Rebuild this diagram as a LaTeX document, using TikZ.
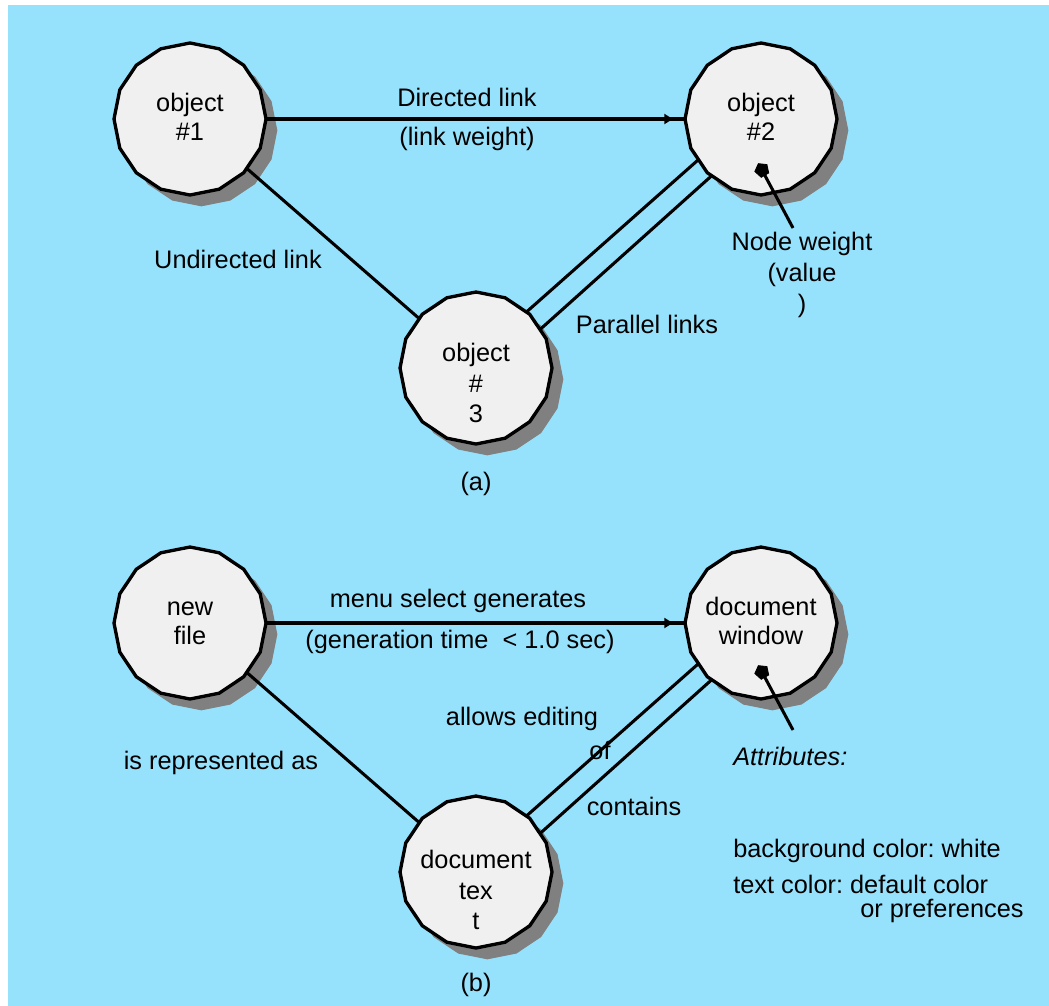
\documentclass[tikz,border=0pt]{standalone}
\usepackage{fontspec}
\setmainfont{Liberation Sans}
\usetikzlibrary{shapes.geometric,shadows,arrows.meta}
\definecolor{paper}{RGB}{150,226,252}
\definecolor{nodefill}{RGB}{240,240,240}
\definecolor{shade}{RGB}{128,128,128}
\frenchspacing
\begin{document}
\begin{tikzpicture}[x=0.75pt,y=-0.75pt,
  every node/.style={font=\fontsize{19}{21.5}\selectfont},
  obj/.style={regular polygon, regular polygon sides=16,
    shape border rotate=11.25, minimum size=114pt,
    inner sep=0pt, outer sep=0pt, draw=black, line width=2.5pt,
    fill=nodefill,
    drop shadow={opacity=1, fill=shade, shadow xshift=8.5pt, shadow yshift=-8.5pt}},
  txt/.style={align=center, inner sep=0pt},
  tall/.style={txt, font=\fontsize{19}{23}\selectfont},
  note/.style={inner sep=0pt, anchor=west},
  link/.style={line width=2.3pt},
  arrowlink/.style={line width=2.3pt, -{Latex[length=7.5pt,width=8.5pt]}, shorten >=8pt},
  weightdot/.style={regular polygon, regular polygon sides=5, fill=black,
    draw=black, line width=0.6pt, minimum size=11pt, inner sep=0pt,
    shape border rotate=30}
]
% page and background
\useasboundingbox (0,0) rectangle (1049,1006);
\fill[paper] (8,5) rectangle (1049,1006);

% ---------- (a) generic graph ----------
\node[obj] (n1) at (190,119) {};
\node[obj] (n2) at (761,119) {};
\node[obj] (n3) at (476,368) {};

\draw[link] (n1) -- (n2);
\draw[arrowlink] (n1) -- (n2);
\draw[link] (n1) -- (n3);
\draw[link] (n2.213) -- (n3.48);
\draw[link] (n2.229) -- (n3.31);

\node[weightdot] (w1) at (762,170) {};
\coordinate (w1e) at (793,228);
\draw[link] (w1.center) -- (w1e);

\node[txt] (t1) at (190,117) {object\\\#1};
\node[txt] (t2) at (761,117) {object\\\#2};
\node[tall] (t3) at (476,383) {object\\\#\\3};

\node[txt] (la1) at (467,97) {Directed link};
\node[txt] (la2) at (467,139) {(link weight)};
\node[txt] (la3) at (238,259) {Undirected link};
\node[txt] (la4) at (647,324) {Parallel links};
\node[tall] (la5) at (802,275) {Node weight\\(value\\)};
\node[txt] (capa) at (476,484) {(a)};

% ---------- (b) document example ----------
\node[obj] (n4) at (190,623) {};
\node[obj] (n5) at (761,623) {};
\node[obj] (n6) at (476,872) {};

\draw[link] (n4) -- (n5);
\draw[arrowlink] (n4) -- (n5);
\draw[link] (n4) -- (n6);
\draw[link] (n5.213) -- (n6.48);
\draw[link] (n5.229) -- (n6.31);

\node[weightdot] (w2) at (762,672) {};
\coordinate (w2e) at (793,730);
\draw[link] (w2.center) -- (w2e);

\node[txt] (t4) at (190,623) {new\\file};
\node[txt] (t5) at (761,621) {document\\window};
\node[tall] (t6) at (476,890) {document\\tex\\t};

\node[txt] (lb1) at (458,601) {menu select generates};
\node[txt] (lb2) at (460,642) {(generation time~~< 1.0 sec)};
\node[txt] (lb3) at (221,763) {is represented as};
\node[txt] (lb4) at (522,719) {allows editing};
\node[txt] (lb5) at (600,750) {of};
\node[txt] (lb6) at (634,806) {contains};

\node[note] (at0) at (733,756) {\itshape Attributes:};
\node[note] (at1) at (733,851) {background color: white};
\node[note] (at2) at (733,884) {text color: default color};
\node[note] (at3) at (860,911) {or preferences};
\node[txt] (capb) at (476,985) {(b)};
\end{tikzpicture}
\end{document}
